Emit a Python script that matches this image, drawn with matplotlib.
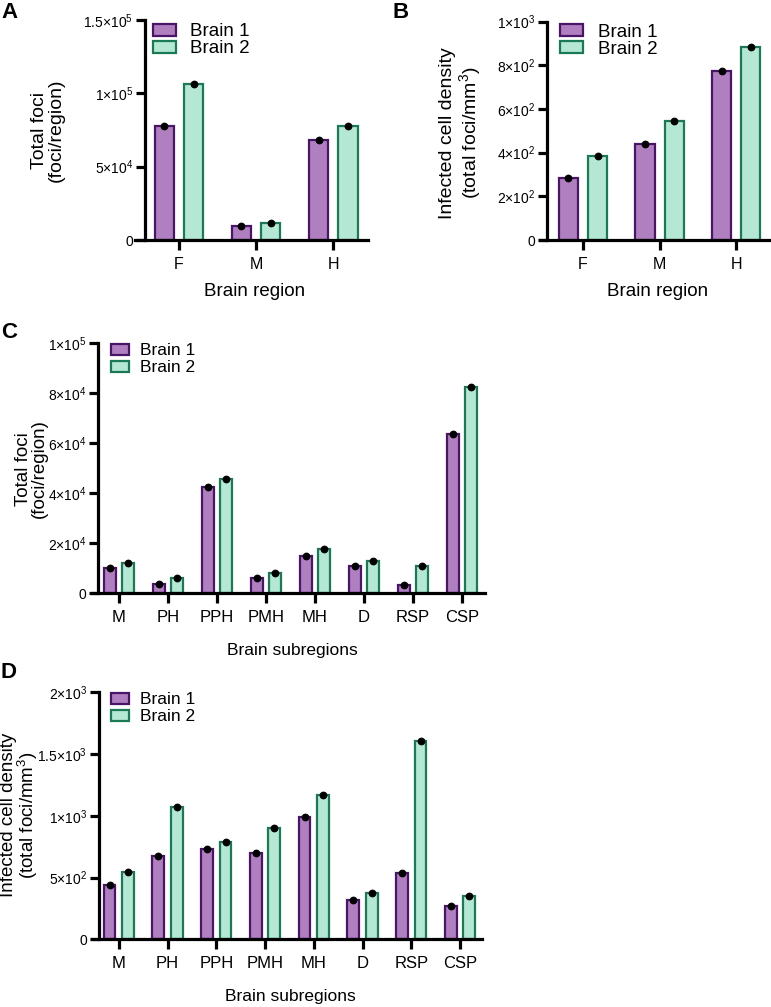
import matplotlib
matplotlib.use("Agg")
import matplotlib.pyplot as plt
import numpy as np

plt.rcParams['font.family'] = ['Liberation Sans', 'DejaVu Sans']
plt.rcParams['mathtext.fontset'] = 'custom'
plt.rcParams['mathtext.rm'] = 'Liberation Sans'
plt.rcParams['mathtext.it'] = 'Liberation Sans'

# ---- data ----
regions = ["F", "M", "H"]
a_brain1 = [78000, 9500, 68000]
a_brain2 = [106500, 11800, 78000]
b_brain1 = [282, 442, 774]
b_brain2 = [386, 545, 886]

subregions = ["M", "PH", "PPH", "PMH", "MH", "D", "RSP", "CSP"]
c_brain1 = [10000, 3700, 42500, 6200, 15000, 10900, 3500, 63800]
c_brain2 = [12200, 6100, 45700, 8000, 17800, 12900, 10800, 82600]
d_brain1 = [442, 673, 735, 697, 990, 322, 535, 268]
d_brain2 = [545, 1075, 790, 900, 1170, 375, 1603, 350]

a_ticks = [0, 50000, 100000, 150000]
a_ticklabels = ["0", "5×10$^{4}$", "1×10$^{5}$", "1.5×10$^{5}$"]
b_ticks = [0, 200, 400, 600, 800, 1000]
b_ticklabels = ["0", "2×10$^{2}$", "4×10$^{2}$", "6×10$^{2}$", "8×10$^{2}$", "1×10$^{3}$"]
c_ticks = [0, 20000, 40000, 60000, 80000, 100000]
c_ticklabels = ["0", "2×10$^{4}$", "4×10$^{4}$", "6×10$^{4}$", "8×10$^{4}$", "1×10$^{5}$"]
d_ticks = [0, 500, 1000, 1500, 2000]
d_ticklabels = ["0", "5×10$^{2}$", "1×10$^{3}$", "1.5×10$^{3}$", "2×10$^{3}$"]

P_FILL, P_EDGE = "#af7fc0", "#4a1468"
G_FILL, G_EDGE = "#b5e8d4", "#1b7a56"

W, H = 771, 1007
fig = plt.figure(figsize=(W / 100, H / 100), dpi=100)


def make_ax(l, r, t, b):
    return fig.add_axes([l / W, 1 - b / H, (r - l) / W, (b - t) / H])


def fx(x):
    return x / W


def fy(y):
    return 1 - y / H


def draw(ax, cats, v1, v2, ylim, ticks, ticklabels, xlim, spine_x,
         tick_fs, xtick_fs, leg_fs, width, off, leg_anchor,
         handlelength, handletextpad, labelspacing):
    x = np.arange(len(cats))
    ax.bar(x - off, v1, width, color=P_FILL, edgecolor=P_EDGE, linewidth=1.6,
           label="Brain 1", zorder=2)
    ax.bar(x + off, v2, width, color=G_FILL, edgecolor=G_EDGE, linewidth=1.6,
           label="Brain 2", zorder=2)
    ax.plot(x - off, v1, 'o', color='black', ms=4.6, zorder=3, clip_on=False)
    ax.plot(x + off, v2, 'o', color='black', ms=4.6, zorder=3, clip_on=False)
    ax.set_xlim(*xlim)
    ax.set_ylim(*ylim)
    ax.set_yticks(ticks)
    ax.set_yticklabels(ticklabels, fontsize=tick_fs)
    ax.set_xticks(x)
    ax.set_xticklabels(cats, fontsize=xtick_fs)
    ax.spines['top'].set_visible(False)
    ax.spines['right'].set_visible(False)
    ax.spines['left'].set_position(('data', spine_x))
    for s in ('left', 'bottom'):
        ax.spines[s].set_linewidth(2.3)
        ax.spines[s].set_color('black')
    ax.tick_params(axis='y', length=6.5, width=2.3, pad=2)
    ax.tick_params(axis='x', length=7, width=2.3, pad=5)
    ax.legend(loc='upper left', bbox_to_anchor=leg_anchor, frameon=False,
              fontsize=leg_fs, handlelength=handlelength, handleheight=0.6,
              handletextpad=handletextpad, labelspacing=labelspacing,
              borderaxespad=0, borderpad=0)
    ax.patch.set_alpha(0)


axA = make_ax(135, 368, 20, 240)
draw(axA, regions, a_brain1, a_brain2, (0, 150000), a_ticks, a_ticklabels,
     (-0.57, 2.45), -0.44, 13, 11.5, 13.5, 0.25, 0.19, (0.077, 0.985),
     1.25, 0.75, 0.0)

axB = make_ax(540, 770, 21.7, 240)
draw(axB, regions, b_brain1, b_brain2, (0, 1000), b_ticks, b_ticklabels,
     (-0.56, 2.44), -0.47, 13, 11.5, 13.5, 0.25, 0.19, (0.087, 0.99),
     1.25, 0.75, 0.0)

axC = make_ax(92, 485, 343.3, 593.3)
draw(axC, subregions, c_brain1, c_brain2, (0, 100000), c_ticks, c_ticklabels,
     (-0.55, 7.47), -0.43, 11, 12, 12.5, 0.24, 0.19,
     (0.048, 1.0), 1.05, 0.65, 0.12)

axD = make_ax(92, 482, 692.3, 939.3)
draw(axD, subregions, d_brain1, d_brain2, (0, 2000), d_ticks, d_ticklabels,
     (-0.55, 7.45), -0.41, 11, 12, 12.5, 0.24, 0.19,
     (0.048, 1.0), 1.05, 0.65, 0.12)

# y labels
ylabs = [
    ("Total foci\n(foci/region)", 48, 130, 14, 1.0),
    ("Infected cell density\n(total foci/mm$^{3}$)", 461, 133, 14, 1.05),
    ("Total foci\n(foci/region)", 31, 469, 13.5, 0.92),
    ("Infected cell density\n(total foci/mm$^{3}$)", 20, 815, 13.5, 0.95),
]
for txt, x, y, fs, ls in ylabs:
    fig.text(fx(x), fy(y), txt, rotation=90, ha='center', va='center',
             fontsize=fs, linespacing=ls, multialignment='center')

# x labels
xlabs = [
    ("Brain region", 255, 292, 13.5),
    ("Brain region", 658, 292, 13.5),
    ("Brain subregions", 292, 650, 12.5),
    ("Brain subregions", 290, 997, 12.5),
]
for txt, x, y, fs in xlabs:
    fig.text(fx(x), fy(y), txt, ha='center', va='center', fontsize=fs)

for lab, (x, y) in {"A": (1, 2), "B": (393, 2), "C": (1, 322), "D": (1, 662)}.items():
    fig.text(fx(x), fy(y), lab, fontsize=16, fontweight='bold',
             va='top', ha='left')

fig.savefig("out.png", dpi=100)
